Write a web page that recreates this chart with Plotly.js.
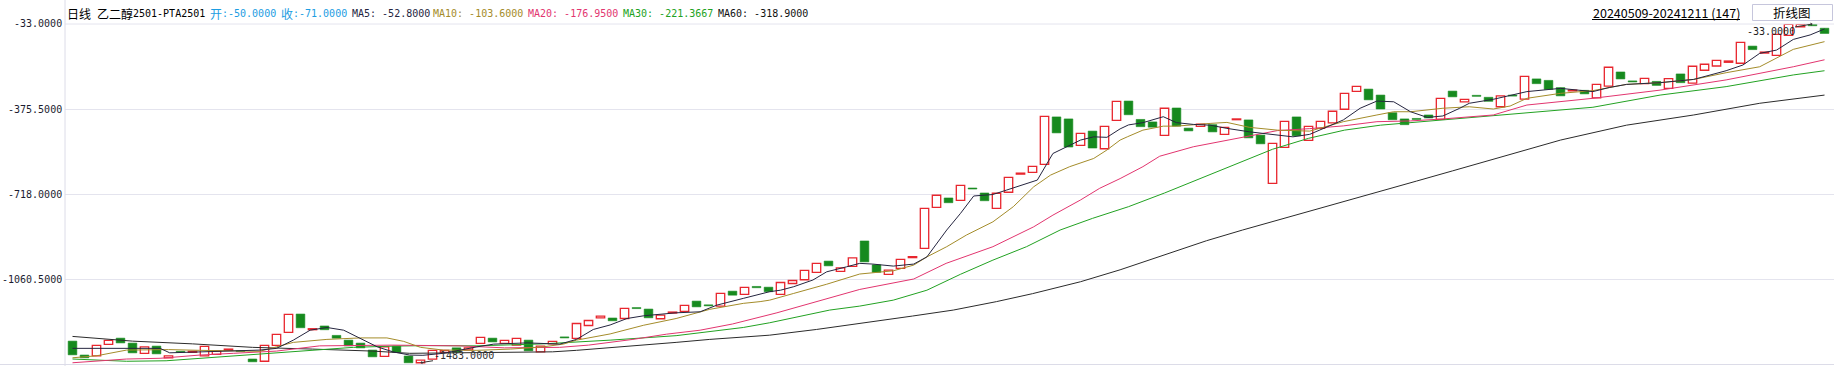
<!DOCTYPE html>
<html><head><meta charset="utf-8">
<script src="https://cdn.plot.ly/plotly-3.0.1.min.js"></script>
<style>html,body{margin:0;padding:0;background:#fff;overflow:hidden}</style>
</head><body><div id="chart" style="width:1834px;height:366px"></div>
<script>
// ---- data ----
const opens = [
-1309,-1365,-1368,-1322,-1297,-1317,-1358,-1329,-1376,-1350,
-1354,-1368,-1362,-1346,-1347,-1381,-1390,-1326,-1274,-1200,
-1263,-1248,-1286,-1305,-1317,-1345,-1370,-1329,-1369,-1396,
-1381,-1354,-1336,-1344,-1318,-1297,-1318,-1325,-1305,-1352,
-1320,-1292,-1298,-1246,-1215,-1216,-1218,-1174,-1180,-1219,
-1196,-1189,-1148,-1163,-1168,-1108,-1121,-1089,-1092,-1121,
-1077,-1062,-1032,-987,-1028,-1008,-906,-1002,-1040,-1016,
-973,-936,-771,-733,-743,-693,-713,-775,-710,-637,
-630,-598,-407,-415,-521,-464,-535,-421,-343,-417,
-427,-481,-371,-452,-445,-438,-477,-418,-419,-480,
-674,-529,-407,-501,-453,-431,-376,-304,-295,-319,
-390,-415,-413,-399,-417,-303,-346,-320,-328,-366,
-319,-335,-254,-260,-289,-302,-300,-330,-283,-226,
-262,-273,-264,-292,-234,-271,-219,-202,-187,-191,
-122,-150,-159,-79,-44,-33,-50];
const closes = [
-1364,-1376,-1326,-1306,-1316,-1356,-1332,-1360,-1368,-1354,
-1350,-1330,-1349,-1341,-1351,-1392,-1326,-1282,-1201,-1255,
-1259,-1263,-1297,-1328,-1336,-1372,-1332,-1353,-1396,-1385,
-1346,-1346,-1354,-1336,-1294,-1312,-1306,-1298,-1348,-1329,
-1310,-1296,-1238,-1226,-1208,-1227,-1177,-1178,-1215,-1204,
-1192,-1165,-1171,-1167,-1117,-1124,-1093,-1094,-1110,-1073,
-1065,-1024,-996,-1006,-1014,-974,-990,-1032,-1023,-980,
-969,-775,-722,-752,-682,-697,-744,-714,-650,-633,
-606,-405,-471,-528,-473,-532,-445,-344,-398,-446,
-448,-372,-444,-463,-436,-467,-449,-415,-491,-515,
-513,-425,-483,-445,-425,-384,-312,-284,-338,-375,
-418,-438,-417,-411,-332,-326,-336,-324,-344,-322,
-323,-244,-273,-296,-322,-299,-314,-276,-207,-254,
-266,-252,-280,-253,-269,-203,-195,-179,-182,-107,
-136,-146,-75,-34,-34,-40,-71];

const ma5X = [0,7.3,8.1,15.6,17,18.4,19.8,21.2,22.6,24,25.4,26.7,28.1,29.2,30.9,33.7,35.1,37.9,40.6,42,43.4,44.8,46.2,47.6,50.3,52.3,53.7,55.9,58.1,59,60.1,61.7,62.85,64.5,65.6,66.7,68.4,70.1,71.2,72.85,74,75.1,76.7,77.85,79.5,80.4,81.7,82.85,84,85.1,86.2,87.3,88,89.2,90.9,92,93.4,94.8,96.2,98.1,99.8,101.7,103.1,104.5,105.9,107.3,108.7,110.1,111.5,112.9,114.2,115.6,116.4,118.4,121.2,124,126.7,128.1,129.5,132.3,135.1,137.8,139.2,140.6,142,143.4,144.8,146];
const ma5Y = [-1338,-1338,-1356,-1345,-1338,-1305,-1265,-1254,-1265,-1298,-1332,-1352,-1365,-1366,-1358,-1332,-1321,-1316,-1321,-1302,-1262,-1244,-1218,-1207,-1195,-1191,-1164,-1137,-1110,-1104,-1090,-1063,-1030,-1010,-996,-999,-1007,-999,-970,-862,-795,-725,-719,-701,-674,-661,-554,-527,-500,-487,-489,-455,-439,-430,-406,-430,-437,-440,-453,-467,-477,-487,-477,-449,-419,-372,-343,-346,-386,-409,-403,-372,-352,-336,-305,-292,-305,-288,-276,-269,-256,-221,-198,-151,-138,-95,-77,-53];

const ma10X = [0,2,4.5,8,10.6,13,15.6,17,18.4,21.2,24,26.2,27.6,29,30.9,33.7,36.5,39.2,40.9,42,44.8,47.6,50.3,53.1,55.9,57.3,58.1,60.1,62.85,65.6,68.4,70.1,71.2,72.85,74.5,76.7,78.4,80.1,81.5,83.1,85.1,86.2,87.3,87.9,89.2,90.9,92,94.8,96.2,98.1,100.4,103.1,104.5,105.9,108.7,110.1,111.5,114.2,116.4,118.4,119.8,121.2,124,126.7,129.5,132.3,135.1,137.8,140.6,142,143.4,146];
const ma10Y = [-1376,-1368,-1345,-1343,-1346,-1349,-1350,-1332,-1314,-1302,-1296,-1296,-1310,-1334,-1345,-1346,-1341,-1332,-1321,-1305,-1280,-1245,-1218,-1181,-1157,-1150,-1144,-1117,-1080,-1039,-1026,-1003,-970,-929,-882,-829,-768,-688,-641,-607,-574,-540,-500,-487,-460,-444,-444,-433,-429,-449,-460,-464,-446,-426,-399,-386,-386,-372,-366,-375,-363,-332,-312,-301,-276,-269,-256,-229,-205,-171,-135,-104];

const ma20X = [0,2.3,4.5,7.3,10.6,13.4,17,20.6,26.7,32.3,36,40.6,43,46.7,49.5,52.3,55,58.7,62.9,65.6,70.1,72.8,76.7,80.1,81.7,84,85.6,87.3,89.2,90.6,93.4,96.2,100.4,103.1,105.9,108.7,111.5,114.2,116.4,118.4,121.2,126.7,132.3,137.8,143.4,146];
const ma20Y = [-1396,-1387,-1381,-1378,-1365,-1358,-1349,-1328,-1325,-1328,-1336,-1334,-1325,-1302,-1281,-1265,-1240,-1195,-1137,-1101,-1059,-996,-929,-849,-802,-741,-694,-655,-607,-565,-527,-500,-462,-454,-443,-426,-423,-415,-406,-399,-359,-332,-299,-258,-205,-177];

const ma30X = [0,4.5,7.8,10.6,14.5,17,21.2,23.4,26.7,29.5,33.7,39.2,44.8,50.3,55.9,58.1,63.1,65.6,68.4,71.2,74,76.7,79.5,82.3,85,88,91,94,97,100,103,106,109,111.5,114.2,116.4,118.4,121.2,126.7,132.3,137.8,143.4,146];
const ma30Y = [-1381,-1390,-1388,-1378,-1366,-1356,-1342,-1334,-1329,-1327,-1328,-1320,-1305,-1287,-1254,-1235,-1184,-1168,-1144,-1104,-1040,-983,-929,-862,-815,-768,-713,-655,-595,-537,-493,-460,-440,-430,-419,-410,-404,-392,-368,-319,-285,-238,-221];

const ma60X = [0,5,10,15,20,25,28.1,30.9,33.7,40,42,44.8,47.6,50.3,53.1,55.9,58.1,62,66,70,73.4,77,80,84,87.3,91,94.5,97.5,100.4,103.1,106,109,112,115,118.4,121,124,129.5,135.1,140.6,146];
const ma60Y = [-1290,-1309,-1320,-1334,-1341,-1349,-1358,-1357,-1356,-1352,-1346,-1336,-1325,-1314,-1302,-1292,-1285,-1262,-1236,-1208,-1184,-1150,-1118,-1070,-1022,-962,-905,-862,-822,-786,-746,-705,-665,-624,-578,-542,-500,-440,-399,-352,-319];

const yTickVals = [-33, -375.5, -718, -1060.5];
const yTickText = ['-33.0000', '-375.5000', '-718.0000', '-1060.5000'];
const maNames = ['MA5', 'MA10', 'MA20', 'MA30', 'MA60'];
const maLast = ['-52.8000', '-103.6000', '-176.9500', '-221.3667', '-318.9000'];
const titleName = '乙二醇2501-PTA2501';
const lastOpenText = '-50.0000', lastCloseText = '-71.0000';
const dateRange = '20240509-20241211 (147)';
const highText = '-33.0000', lowText = '-1483.0000';
const highIdx = 145, lowIdx = 29;

// ---- styling ----
const W = 1834, H = 366, ML = 65, MR = 0, MT = 24, MB = 1;
const PW = W - ML - MR, PH = H - MT - MB;
const px = x => (x - ML) / PW, py = y => 1 - (y - MT) / PH;
const MONO = 'DejaVu Sans Mono, Liberation Mono, monospace';
const CJK = 'Noto Sans CJK SC, sans-serif';
const maColors = ['#25253f', '#a48c2a', '#e2356f', '#22a222', '#2b2b2b'];
const UPC = '#e8262e', DNC = '#168a1e';

const idx = opens.map((_, i) => i);
const up = idx.filter(i => closes[i] >= opens[i]);
const dn = idx.filter(i => closes[i] < opens[i]);

const traces = [];
const maX = [ma5X, ma10X, ma20X, ma30X, ma60X], maY = [ma5Y, ma10Y, ma20Y, ma30Y, ma60Y];
[4,3,2,1,0].forEach(k => traces.push({type:'scatter', mode:'lines', x:maX[k], y:maY[k],
  line:{color:maColors[k], width:1}, hoverinfo:'skip'}));
traces.push({type:'bar', x:up, base:up.map(i=>opens[i]), y:up.map(i=>closes[i]-opens[i]),
  width:0.7, marker:{color:'#ffffff', line:{color:UPC, width:1.3}}, hoverinfo:'skip'});
traces.push({type:'bar', x:dn, base:dn.map(i=>closes[i]), y:dn.map(i=>opens[i]-closes[i]),
  width:0.72, marker:{color:DNC, line:{color:DNC, width:0.6}}, hoverinfo:'skip'});

function txt(t, x, y, color, size, family, anchor) {
  return {xref:'paper', yref:'paper', x:px(x), y:py(y), text:t, showarrow:false,
    xanchor:anchor||'left', yanchor:'middle', font:{color:color, size:size, family:family}, borderpad:0};
}
const ann = [];
// header
const HY = 13;
ann.push(txt('日线', 66, HY, '#000', 12, CJK));
ann.push(txt(titleName.slice(0,3), 96, HY, '#000', 12, CJK));
ann.push(txt(titleName.slice(3), 132, HY, '#000', 10, MONO));
ann.push(txt('开', 209, HY, '#1d9de2', 12, CJK));
ann.push(txt(':' + lastOpenText, 221, HY, '#1d9de2', 10, MONO));
ann.push(txt('收', 280, HY, '#1d9de2', 12, CJK));
ann.push(txt(':' + lastCloseText, 292, HY, '#1d9de2', 10, MONO));
const maPos = [351, 432, 527, 622, 717];
maNames.forEach((n, k) => ann.push(txt(n + ': ' + maLast[k], maPos[k], HY, maColors[k] === '#2b2b2b' ? '#111' : maColors[k], 10, MONO)));
// y tick labels
const tickY = [23, 109.2, 194.3, 279.5];
yTickText.forEach((t, k) => ann.push(txt(t, 63, tickY[k], '#1c1c30', 10, MONO, 'right')));
// date range + button
ann.push(txt(dateRange, 1666, 12.5, '#000', 12.5, CJK, 'center'));
ann.push(txt('折线图', 1792, 12.7, '#000', 12.5, CJK, 'center'));
// high / low markers
ann.push({x:highIdx, y:opens[highIdx], xref:'x', yref:'y', text:highText, showarrow:true,
  ax:-42, ay:7, arrowhead:1, arrowsize:0.6, arrowwidth:1, arrowcolor:'#333',
  font:{family:MONO, size:10, color:'#222'}, borderpad:0, standoff:0});
ann.push({x:lowIdx, y:opens[lowIdx], xref:'x', yref:'y', text:lowText, showarrow:true,
  ax:43, ay:-7, arrowhead:1, arrowsize:0.6, arrowwidth:1, arrowcolor:'#333',
  font:{family:MONO, size:10, color:'#333'}, borderpad:0, standoff:0});

const LINE = '#e4e4ee';
const shapes = [
  {type:'line', xref:'paper', yref:'paper', x0:0, x1:1, y0:1, y1:1, line:{color:LINE, width:1}},
  {type:'line', xref:'paper', yref:'paper', x0:px(0), x1:1, y0:py(364.5), y1:py(364.5), line:{color:'#dcdce8', width:1}},
  {type:'line', xref:'paper', yref:'paper', x0:0, x1:0, y0:py(366), y1:py(0), line:{color:'#dcdce8', width:1}},
  {type:'rect', xref:'paper', yref:'paper', x0:px(1752.5), x1:px(1832.5), y0:py(20.5), y1:py(4.5), line:{color:'#c6c6dc', width:1}, fillcolor:'rgba(0,0,0,0)'},
  {type:'line', xref:'paper', yref:'paper', x0:px(1592), x1:px(1740), y0:py(19.5), y1:py(19.5), line:{color:'#000', width:1}}
];

const layout = {
  width:W, height:H, margin:{l:ML, r:MR, t:MT, b:MB, pad:0},
  paper_bgcolor:'#fff', plot_bgcolor:'#fff', showlegend:false,
  barmode:'overlay', bargap:0,
  xaxis:{range:[-0.625, 146.79], showgrid:false, zeroline:false, showticklabels:false, ticks:'', showline:false},
  yaxis:{range:[-1405, -33], tickvals:yTickVals, showticklabels:false, ticks:'', gridcolor:LINE, gridwidth:1, zeroline:false, showline:false},
  shapes:shapes, annotations:ann
};
Plotly.newPlot('chart', traces, layout, {displayModeBar:false, staticPlot:true});
</script></body></html>
